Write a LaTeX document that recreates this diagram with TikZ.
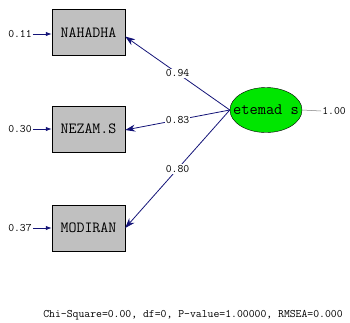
\documentclass[tikz,border=0pt]{standalone}
\usetikzlibrary{arrows.meta,shapes.geometric}
\definecolor{navy}{RGB}{20,20,120}
\definecolor{boxgray}{RGB}{192,192,192}
\definecolor{elgreen}{RGB}{0,230,0}
\tikzset{
  obs/.style={draw=black, fill=boxgray, minimum width=73pt, minimum height=46pt, inner sep=0pt, font=\ttfamily\fontsize{15.5}{16}\selectfont},
  lat/.style={ellipse, draw=black, fill=elgreen, minimum width=72pt, minimum height=45pt, inner sep=0pt},
  lattext/.style={inner sep=0pt, font=\ttfamily\fontsize{16}{17}\selectfont},
  small/.style={font=\ttfamily\fontsize{11.4}{12}\selectfont, inner sep=1pt},
  load/.style={draw=navy, line width=0.8pt, -{Stealth[length=10pt,width=7pt]}},
  err/.style={draw=navy, line width=1pt, -{Latex[length=6pt,width=4.5pt]}},
  lbl/.style={small, fill=white, inner sep=1pt}
}
\begin{document}
\begin{tikzpicture}[x=1pt,y=-1pt]
\useasboundingbox (0,0) rectangle (350,322);
\node[obs] (b1) at (88.5,32.5) {NAHADHA};
\node[obs] (b2) at (88.5,129) {NEZAM.S};
\node[obs] (b3) at (88.5,228) {MODIRAN};
\node[lat] (e) at (266,110) {};
\node[lattext] (et) at (e.center) {etemad s};
\node[small] (r1) at (20,34) {0.11};
\node[small] (r2) at (20,129) {0.30};
\node[small] (r3) at (20,228) {0.37};
\node[small] (v) at (334,111) {1.00};
\draw[err] (r1.east) -- (b1.west |- r1.east);
\draw[err] (r2.east) -- (b2.west |- r2.east);
\draw[err] (r3.east) -- (b3.west |- r3.east);
\draw[gray, line width=0.5pt] (e.east) -- (v.west);
\draw[load] (e.west) -- node[lbl, midway] {0.94} ([yshift=-4pt]b1.east);
\draw[load] (e.west) -- node[lbl, midway] {0.83} ([yshift=-1pt]b2.east);
\draw[load] (e.west) -- node[lbl, midway] {0.80} (b3.east);
\node[small] (fit) at (193,315) {Chi-Square=0.00, df=0, P-value=1.00000, RMSEA=0.000};
\end{tikzpicture}
\end{document}
